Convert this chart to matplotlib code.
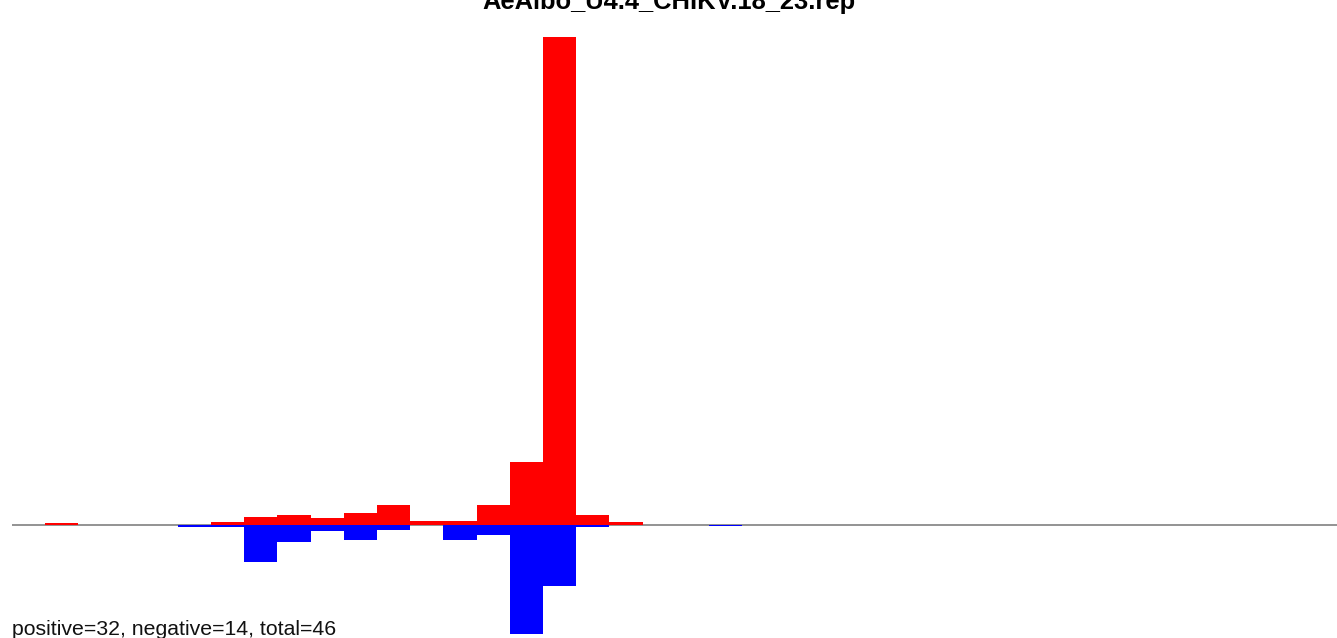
import matplotlib
matplotlib.use("Agg")
import matplotlib.pyplot as plt
import numpy as np

# bins 0..39 (arbitrary units, baseline = 0)
bins = np.arange(40)
positive = np.zeros(40)
negative = np.zeros(40)
pos_idx = [1, 6, 7, 8, 9, 10, 11, 12, 13, 14, 15, 16, 17, 18]
pos_val = [1.5, 2.5, 7.5, 9.8, 6.5, 11.8, 19.5, 3.8, 3.8, 19.5, 62.5, 487.5, 9.5, 2.5]
neg_idx = [5, 6, 7, 8, 9, 10, 11, 13, 14, 15, 16, 17, 21]
neg_val = [2.5, 2.5, 37.2, 17.2, 6.2, 15.2, 5.2, 15.2, 10.2, 109.2, 61.2, 2.2, 1.5]
positive[pos_idx] = pos_val
negative[neg_idx] = neg_val

title = "AeAlbo_U4.4_CHIKV.18_23.rep"
summary = "positive=32, negative=14, total=46"

plt.rcParams['font.family'] = ['Liberation Sans', 'DejaVu Sans']

W, H = 1337, 638
fig = plt.figure(figsize=(W / 100, H / 100), dpi=100)
# bins are ~33.2 px wide starting at x=11.8; the last one runs past the edge
ax = fig.add_axes([11.8 / W, (H - 633.7) / H, 1328 / W, 596.7 / H])

ax.axhline(0, color='#808080', lw=1.2, zorder=1)
ax.bar(bins, positive, width=1.0, color='#ff0000', linewidth=0, zorder=2)
ax.bar(bins, -negative, width=1.0, color='#0000ff', linewidth=0, zorder=2)

ax.set_xlim(-0.5, 39.5)
ax.set_ylim(-109.2, 487.5)
ax.axis('off')

fig.text(668.5 / W, 1 - 9.5 / H, title, ha='center', va='baseline',
         fontsize=18.4, fontweight='bold')
fig.text(12.5 / W, 1 - 634.7 / H, summary, ha='left', va='baseline',
         fontsize=15.3, color='#111111')

fig.savefig('out.png', dpi=100)
